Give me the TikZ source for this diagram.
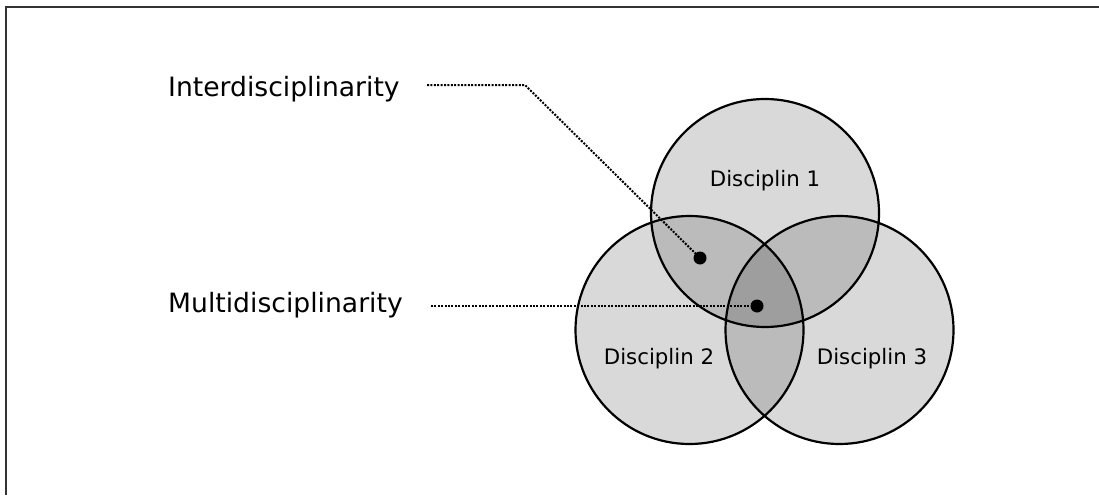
\documentclass[tikz,border=0pt]{standalone}
\usepackage{fontspec}
\setmainfont{DejaVu Sans}
\definecolor{one}{HTML}{D9D9D9}
\definecolor{two}{HTML}{BBBBBB}
\definecolor{three}{HTML}{9E9E9E}
\definecolor{frame}{HTML}{333333}
\begin{document}
\begin{tikzpicture}[x=1pt,y=-1pt,
  ring/.style={circle,draw=black,line width=2.2pt,minimum size=228pt,inner sep=0pt},
  biglabel/.style={font=\fontsize{26.6}{32}\selectfont,anchor=base west,inner sep=0pt},
  disclabel/.style={font=\fontsize{21.3}{25}\selectfont,inner sep=0pt},
  dotmark/.style={circle,fill=black,minimum size=13pt,inner sep=0pt},
  leader/.style={line width=2pt,dash pattern=on 2pt off 1.4pt}]
\useasboundingbox (0,0) rectangle (1099,495);
\fill[white] (0,0) rectangle (1099,495);
\draw[frame,line width=2.2pt] (1099,7) -- (6,7) -- (6,495);
% centers
\coordinate (c1) at (765,213);
\coordinate (c2) at (689.5,330);
\coordinate (c3) at (839.5,330);
\def\R{114}
% fills
\fill[one] (c1) circle (\R);
\fill[one] (c2) circle (\R);
\fill[one] (c3) circle (\R);
\begin{scope}
  \clip (c1) circle (\R);
  \fill[two] (c2) circle (\R);
  \fill[two] (c3) circle (\R);
\end{scope}
\begin{scope}
  \clip (c2) circle (\R);
  \fill[two] (c3) circle (\R);
\end{scope}
\begin{scope}
  \clip (c1) circle (\R);
  \clip (c2) circle (\R);
  \fill[three] (c3) circle (\R);
\end{scope}
% outlines
\node[ring] (k1) at (c1) {};
\node[ring] (k2) at (c2) {};
\node[ring] (k3) at (c3) {};
% labels
\node[disclabel] (t1) at (765,181) {Disciplin 1};
\node[disclabel] (t2) at (659,359) {Disciplin 2};
\node[disclabel] (t3) at (872,359) {Disciplin 3};
\node[biglabel] (inter) at (168,96) {Interdisciplinarity};
\node[biglabel] (multi) at (168,312) {Multidisciplinarity};
% dots
\node[dotmark] (d1) at (700,258) {};
\node[dotmark] (d2) at (757,306) {};
% leaders
\coordinate (s1) at (427,85);
\coordinate (b1) at (525,85);
\coordinate (s2) at (431,306);
\draw[leader] (s1) -- (b1) -- (d1.center);
\draw[leader] (s2) -- (d2.center);
\end{tikzpicture}
\end{document}
